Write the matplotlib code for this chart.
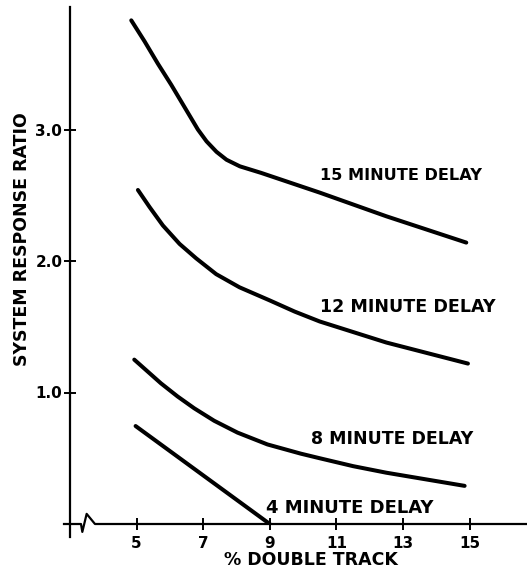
import numpy as np
import matplotlib
matplotlib.use('Agg')
import matplotlib.pyplot as plt
import matplotlib.transforms as mtransforms

# values
x15 = [4.84, 5.24, 5.64, 6.04, 6.44, 6.84, 7.1, 7.4, 7.7, 8.1, 8.74, 10.5, 12.5, 14.9]
y15 = [3.83, 3.67, 3.50, 3.34, 3.17, 3.00, 2.91, 2.83, 2.77, 2.72, 2.67, 2.52, 2.34, 2.14]
x12 = [5.04, 5.39, 5.79, 6.29, 6.79, 7.39, 8.09, 9.0, 9.75, 10.5, 11.5, 12.5, 14.95]
y12 = [2.54, 2.41, 2.27, 2.13, 2.02, 1.90, 1.80, 1.70, 1.615, 1.54, 1.46, 1.38, 1.22]
x8 = [4.93, 5.33, 5.73, 6.23, 6.73, 7.33, 8.03, 8.93, 9.93, 10.5, 11.5, 12.5, 14.85]
y8 = [1.25, 1.16, 1.07, 0.97, 0.88, 0.785, 0.695, 0.605, 0.535, 0.50, 0.44, 0.39, 0.29]
x4 = [4.97, 9.0]
y4 = [0.745, 0.0]

labels = ['15 MINUTE DELAY', '12 MINUTE DELAY', '8 MINUTE DELAY', '4 MINUTE DELAY']
label_pos = [(10.5, 2.65), (10.5, 1.65), (10.25, 0.65), (8.9, 0.12)]
label_size = [11.6, 12.6, 12.5, 13.0]

xticks = [5, 7, 9, 11, 13, 15]
yticks = [1.0, 2.0, 3.0]
ytick_labels = ['1.0', '2.0', '3.0']

fig = plt.figure(figsize=(5.27, 5.73), dpi=100)
ax = fig.add_axes([70/527, 1-524/573, 1-70/527, (524-7)/573])
ax.set_xlim(3, 3 + 457/33.3)
ax.set_ylim(0, 517/131.5)

lw = 2.9
for xs, ys in [(x15, y15), (x12, y12), (x8, y8), (x4, y4)]:
    ax.plot(xs, ys, color='black', lw=lw, solid_capstyle='round', solid_joinstyle='round')

tfont = dict(family='DejaVu Sans', fontweight='bold', fontsize=11)
for lab, (px, py), fs in zip(labels, label_pos, label_size):
    ax.text(px, py, lab, ha='left', va='center', family='DejaVu Sans',
            fontweight='bold', fontsize=fs)

for s in ['top', 'right', 'bottom']:
    ax.spines[s].set_visible(False)
ax.spines['left'].set_linewidth(1.6)
ax.spines['left'].set_bounds(-0.1, 3.93)

# x axis drawn by hand with the break mark
tr = mtransforms.blended_transform_factory(ax.transData, ax.transData)
bx = [2.82, 3.33, 3.37, 3.5, 3.75, 16.72]
by = [0.0, 0.0, -0.06, 0.077, 0.0, 0.0]
ax.plot(bx, by, color='black', lw=1.6, clip_on=False, transform=tr,
        solid_joinstyle='round')

ax.set_xticks(xticks)
ax.set_xticklabels([str(v) for v in xticks], **tfont)
ax.set_yticks(yticks)
ax.set_yticklabels(ytick_labels, **tfont)
ax.tick_params(direction='inout', length=8, width=1.4)
ax.tick_params(axis='x', pad=5)
ax.tick_params(axis='y', pad=1.5)

ax.set_xlabel('% DOUBLE TRACK', fontsize=12.5, fontweight='bold', family='DejaVu Sans')
ax.xaxis.set_label_coords((311-70)/457, -(560-524)/517)
ax.xaxis.label.set_va('center')
ax.set_ylabel('SYSTEM RESPONSE RATIO', fontsize=12.5, fontweight='bold', family='DejaVu Sans')
ax.yaxis.set_label_coords(-(70-22)/457, (524-239)/517)
ax.yaxis.label.set_va('center')

fig.savefig('out.png', dpi=100)
